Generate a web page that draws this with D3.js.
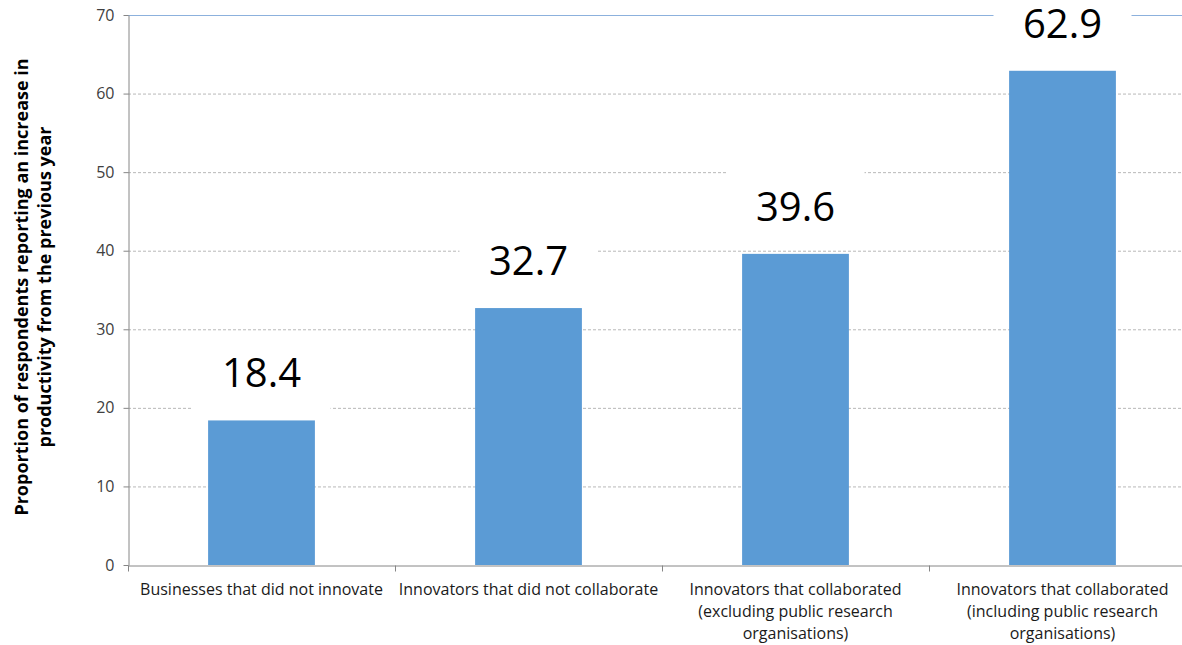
<!DOCTYPE html>
<html>
<head>
<meta charset="utf-8">
<script src="https://cdn.jsdelivr.net/npm/d3@7"></script>
<style>
  html, body { margin: 0; padding: 0; background: #fff; }
  svg { display: block; }
</style>
</head>
<body>
<svg id="chart" width="1182" height="645"></svg>
<script>
const categories = [
  "Businesses that did not innovate",
  "Innovators that did not collaborate",
  "Innovators that collaborated\n(excluding public research\norganisations)",
  "Innovators that collaborated\n(including public research\norganisations)"
];
const values = [18.4, 32.7, 39.6, 62.9];
const yTicks = [0, 10, 20, 30, 40, 50, 60, 70];
const yTitleLines = [
  "Proportion of respondents reporting an increase in",
  "productivity from the previous year"
];

(function () {
const svg = d3.select("#chart");
const pLeft = 128, pTop = 15, pBottom = 565, pRight = 1196;

const x = d3.scaleBand().domain(categories).range([pLeft, pRight]).padding(0);
const y = d3.scaleLinear().domain([0, 70]).range([pBottom, pTop]);

// gridlines
svg.append("g").selectAll("line")
  .data(yTicks.filter(t => t > 0))
  .join("line")
  .attr("x1", pLeft).attr("x2", 1182)
  .attr("y1", d => y(d) + 0.5).attr("y2", d => y(d) + 0.5)
  .attr("stroke", d => d === 70 ? "#8cb1dd" : "#b8b8b8")
  .attr("stroke-width", 1)
  .attr("stroke-dasharray", d => d === 70 ? null : "3,2");

// label background boxes
const labelBase = d => y(d) - 33;
const cx = c => x(c) + x.bandwidth() / 2;
svg.append("g").selectAll("rect")
  .data(values)
  .join("rect")
  .attr("x", (d, i) => cx(categories[i]) - 69)
  .attr("y", d => labelBase(d) - 52)
  .attr("width", 138)
  .attr("height", 76)
  .attr("fill", "#fff");

// bars
const barW = x.bandwidth() * 0.4;
svg.append("g").selectAll("rect")
  .data(values)
  .join("rect")
  .attr("x", (d, i) => cx(categories[i]) - barW / 2)
  .attr("y", d => y(d))
  .attr("width", barW)
  .attr("height", d => pBottom - y(d))
  .attr("fill", "#5b9bd5");

// y axis
const yAxis = d3.axisLeft(y).tickValues(yTicks).tickSize(5).tickSizeOuter(0).tickPadding(9);
const gy = svg.append("g").attr("transform", `translate(${pLeft + 0.5},0)`).call(yAxis);
gy.select(".domain").attr("stroke", "#868686");
gy.selectAll(".tick line").attr("stroke", "#868686");
gy.selectAll(".tick text")
  .attr("font-family", "'Open Sans', sans-serif")
  .attr("font-size", 16)
  .attr("fill", "#404040");

// x axis
const xAxis = d3.axisBottom(x).tickSize(0).tickSizeOuter(0).tickFormat("");
const gx = svg.append("g").attr("transform", `translate(0,${pBottom + 0.5})`).call(xAxis);
gx.select(".domain").attr("stroke", "#868686");
gx.selectAll("line.bound")
  .data(categories.map(c => x(c)).concat([pRight]))
  .join("line")
  .attr("class", "bound")
  .attr("x1", d => Math.round(d) + 0.5).attr("x2", d => Math.round(d) + 0.5)
  .attr("y1", 0).attr("y2", 6)
  .attr("stroke", "#868686");

// x labels
const xl = svg.append("g");
categories.forEach(c => {
  const t = xl.append("text")
    .attr("x", cx(c))
    .attr("y", 595)
    .attr("text-anchor", "middle")
    .attr("font-family", "'Open Sans', sans-serif")
    .attr("font-size", 16)
    .attr("fill", "#1a1a1a");
  c.split("\n").forEach((line, i) => {
    t.append("tspan").attr("x", cx(c)).attr("dy", i === 0 ? 0 : 22).text(line);
  });
});

// value labels
svg.append("g").selectAll("text")
  .data(values)
  .join("text")
  .attr("x", (d, i) => cx(categories[i]))
  .attr("y", d => labelBase(d))
  .attr("text-anchor", "middle")
  .attr("font-family", "'Open Sans', sans-serif")
  .attr("font-size", 40)
  .attr("fill", "#000")
  .text(d => d.toFixed(1));

// y title
const yt = svg.append("text")
  .attr("transform", "translate(0,287) rotate(-90)")
  .attr("text-anchor", "middle")
  .attr("font-family", "'Open Sans', sans-serif")
  .attr("font-weight", "bold")
  .attr("font-size", 18)
  .attr("fill", "#000");
yTitleLines.forEach((line, i) => {
  yt.append("tspan").attr("x", 0).attr("y", i === 0 ? 28 : 51).text(line);
});
})();
</script>
</body>
</html>
